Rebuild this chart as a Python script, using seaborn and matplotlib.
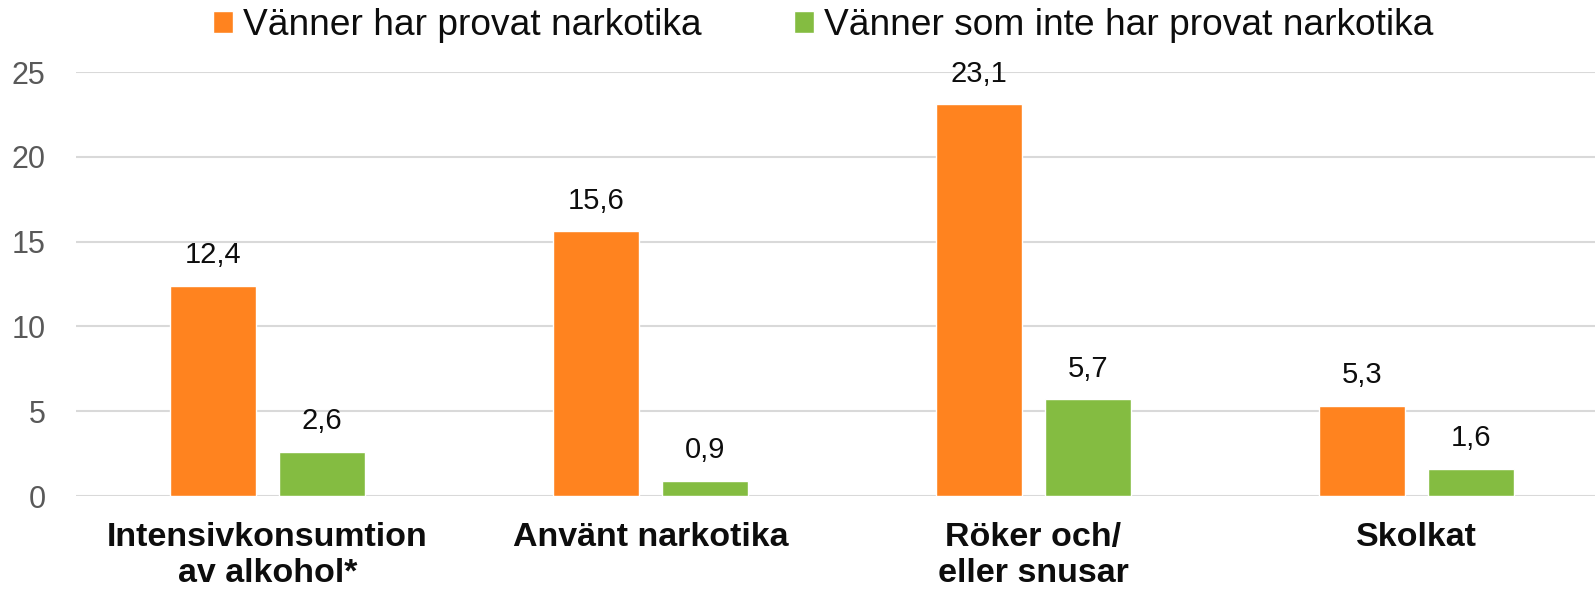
import matplotlib
matplotlib.use("Agg")
import matplotlib.pyplot as plt
import seaborn as sns
import pandas as pd

categories = ["Intensivkonsumtion\nav alkohol*", "Använt narkotika", "Röker och/\neller snusar", "Skolkat"]
series_names = ["Vänner har provat narkotika", "Vänner som inte har provat narkotika"]
values_tried = [12.4, 15.6, 23.1, 5.3]
values_not_tried = [2.6, 0.9, 5.7, 1.6]
y_ticks = [0, 5, 10, 15, 20, 25]
colors = ["#FF831F", "#84BC41"]

df = pd.DataFrame({
    "kategori": categories * 2,
    "serie": [series_names[0]] * 4 + [series_names[1]] * 4,
    "varde": values_tried + values_not_tried,
})

sns.set_theme(style="white")
plt.rcParams["font.family"] = ["Liberation Sans", "DejaVu Sans"]

fig = plt.figure(figsize=(15.95, 5.91), dpi=100)
ax = fig.add_axes([76 / 1595, 95 / 591, 1532 / 1595, 424 / 591])

sns.barplot(data=df, x="kategori", y="varde", hue="serie", order=categories,
            hue_order=series_names, palette=colors, width=0.568, gap=0.215,
            saturation=1, ax=ax, legend=True)

ax.set_ylim(0, 25)
ax.set_xlim(-0.5, 3.5)
ax.set_yticks(y_ticks)
ax.set_yticklabels([str(t) for t in y_ticks], fontsize=22, color="#595959")
ax.yaxis.grid(True, color="#D9D9D9", linewidth=1.5)
ax.set_axisbelow(True)
for s in ax.spines.values():
    s.set_visible(False)
ax.tick_params(axis="y", length=0, pad=22)
ax.tick_params(axis="x", length=0, pad=19)
for lbl in ax.get_xticklabels():
    lbl.set_fontsize(24.5)
    lbl.set_fontweight("bold")
    lbl.set_color("#0D0D0D")
    lbl.set_linespacing(1.2)
ax.set_xlabel("")
ax.set_ylabel("")

for cont in ax.containers:
    labs = [f"{v:.1f}".replace(".", ",") for v in cont.datavalues]
    ax.bar_label(cont, labels=labs, padding=12, fontsize=21, color="#0D0D0D")

handles, labels = ax.get_legend_handles_labels()
ax.legend_.remove()
leg = fig.legend(handles, labels, loc="center", bbox_to_anchor=(0.516, 0.957),
                 ncol=2, frameon=False, fontsize=26.7, handlelength=0.55, handleheight=0.55,
                 handletextpad=0.25, columnspacing=2.5, borderaxespad=0)
for t in leg.get_texts():
    t.set_color("#0D0D0D")

fig.savefig("out.png", dpi=100)
